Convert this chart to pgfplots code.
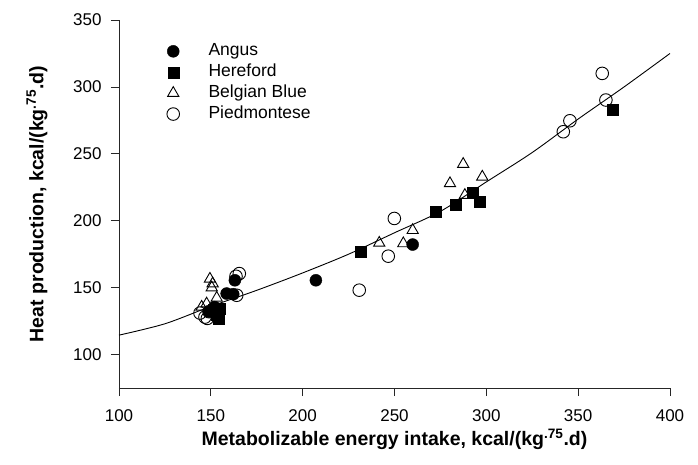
\documentclass[border=0pt]{standalone}
\usepackage{fontspec}
\setmainfont{Liberation Sans}
\usepackage{pgfplots}
\pgfplotsset{compat=1.18}

\begin{document}
\begin{tikzpicture}
\path[use as bounding box] (-119pt,-76pt) rectangle (579pt,388pt);
\begin{axis}[
  at={(0pt,0pt)}, anchor=south west,
  scale only axis, width=551pt, height=368pt,
  xmin=100, xmax=400, ymin=75, ymax=350,
  axis lines=left,
  axis line style={-, line width=0.9pt, black!85},
  xtick={100,150,...,400}, ytick={100,150,...,350},
  tick align=outside, major tick length=8pt,
  tick style={line width=0.8pt, black!85},
  tick label style={font=\fontsize{17}{20}\selectfont},
  x tick label style={yshift=-10pt},
  y tick label style={xshift=-6pt},
  /pgf/number format/assume math mode=true,
  xlabel={Metabolizable energy intake, kcal/(kg\textsuperscript{.75}.d)},
  ylabel={Heat production, kcal/(kg\textsuperscript{.75}.d)},
  label style={font=\fontsize{19.5}{23}\selectfont\bfseries},
  xlabel style={anchor=center, at={(axis description cs:0.5,-0.14)}},
  ylabel style={anchor=center, at={(axis description cs:-0.149,0.5)}},
  legend image code/.code={\draw[#1] plot coordinates {(6pt,0pt)};},
  legend style={draw=none, fill=none, inner sep=0pt, outer sep=0pt,
    at={(0.087,0.942)}, anchor=north west,
    font=\fontsize{17.5}{20}\selectfont, row sep=0.9pt,
    nodes={inner sep=2pt, text height=12.5pt, text depth=3.5pt},
    /tikz/every odd column/.append style={column sep=27pt}},
  legend cell align=left,
]
\addplot[black, line width=0.9pt, smooth, forget plot] coordinates {
  (100,114.5) (125,123) (150,136) (175,148) (200,161) (225,175) (250,191)
  (275,207) (300,229) (325,251) (350,276) (375,300) (400,325)};

% Angus
\addplot[only marks, mark=*, mark size=6pt, black] coordinates {
  (149,132) (152,135.5) (158.6,145.6) (162.2,145.1) (163.1,155.5)
  (207.2,155.5) (259.9,182.2)};
\addlegendentry{Angus}

% Hereford
\addplot[only marks, mark=square*, mark size=5.5pt, black] coordinates {
  (151.5,133.5) (153,130) (154.1,127) (155,134) (231.7,176.7)
  (272.6,206.6) (283.1,212.2) (292.5,220.8) (296.5,214.1) (368.7,283.2)};
\addlegendentry{Hereford}

% Belgian Blue
\addplot[only marks, mark=triangle, mark size=6.5pt, black,
  mark options={line width=0.9pt, fill=none}] coordinates {
  (145,135.6) (147.7,138) (149.5,156.5) (151,153) (150.5,150) (153.2,142.3)
  (241.7,183.4) (254.8,183) (259.9,192.9) (280.2,227.9) (287.4,242.3)
  (288.3,219.1) (297.8,232.8)};
\addlegendentry{Belgian Blue}

% Piedmontese
\addplot[only marks, mark=o, mark size=6.3pt, black,
  mark options={line width=0.9pt, fill=none}] coordinates {
  (144.1,131) (146.8,128) (148.1,127) (149,132) (163.7,158.5) (165.5,160.5)
  (164.1,144.3) (230.8,148.1) (246.6,173.5) (249.9,201.7)
  (341.9,266.5) (345.5,274.7) (363.1,310.1) (365.1,290.2)};
\addlegendentry{Piedmontese}
\end{axis}
\end{tikzpicture}
\end{document}
